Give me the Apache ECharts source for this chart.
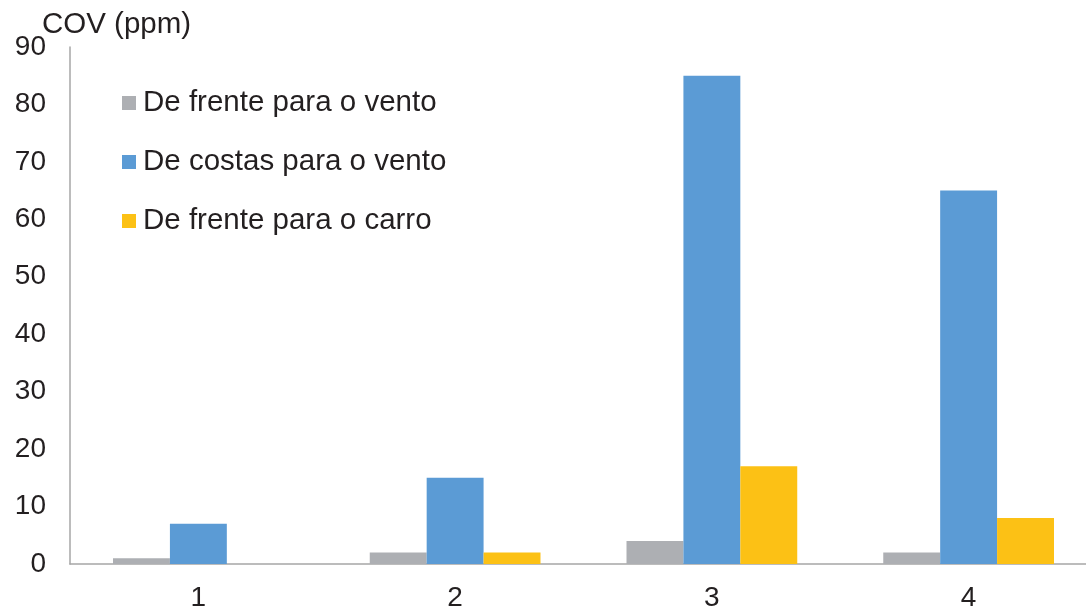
<!DOCTYPE html>
<html><head><meta charset="utf-8">
<script src="https://cdn.jsdelivr.net/npm/echarts@6/dist/echarts.min.js"></script>
<style>html,body{margin:0;padding:0;background:#fff}#c{width:1086px;height:612px}</style>
</head><body><div id="c"></div>
<script>
var categories = ['1', '2', '3', '4'];
var seriesNames = ['De frente para o vento', 'De costas para o vento', 'De frente para o carro'];
var frenteVento = [1, 2, 4, 2];
var costasVento = [7, 15, 85, 65];
var frenteCarro = [0, 2, 17, 8];
var yTitle = 'COV (ppm)';

var colors = ['#ADAFB3', '#5B9BD5', '#FCC115'];
var font = 'Liberation Sans, Arial, sans-serif';
var txt = '#231F20';
var chart = echarts.init(document.getElementById('c'));
function bar(name, data, i) {
  return { name: name, type: 'bar', data: data, barGap: '0%', barCategoryGap: '33.5%',
    itemStyle: { color: colors[i] }, emphasis: { disabled: true } };
}
chart.setOption({
  animation: false,
  title: { text: yTitle, left: 37, top: 5, textStyle: { fontFamily: font, fontSize: 29.5, fontWeight: 'normal', color: txt } },
  legend: { orient: 'vertical', left: 122, top: 88, padding: 0, itemWidth: 14, itemHeight: 14, itemGap: 29,
    icon: 'rect', textStyle: { fontFamily: font, fontSize: 29.5, color: txt, padding: [0, 0, 0, 2] },
    data: seriesNames },
  grid: { left: 70, width: 1027, top: 47, bottom: 48, containLabel: false, outerBoundsMode: 'none' },
  xAxis: { type: 'category', data: categories,
    axisLine: { lineStyle: { color: '#A6A6A6', width: 1.5 } }, axisTick: { show: false },
    axisLabel: { fontFamily: font, fontSize: 28, color: txt, margin: 20 } },
  yAxis: { type: 'value', min: 0, max: 90, interval: 10,
    axisLine: { show: true, lineStyle: { color: '#A6A6A6', width: 1.5 } }, axisTick: { show: false },
    splitLine: { show: false },
    axisLabel: { fontFamily: font, fontSize: 28, color: txt, margin: 24 } },
  series: [bar(seriesNames[0], frenteVento, 0), bar(seriesNames[1], costasVento, 1), bar(seriesNames[2], frenteCarro, 2)]
});
</script></body></html>
